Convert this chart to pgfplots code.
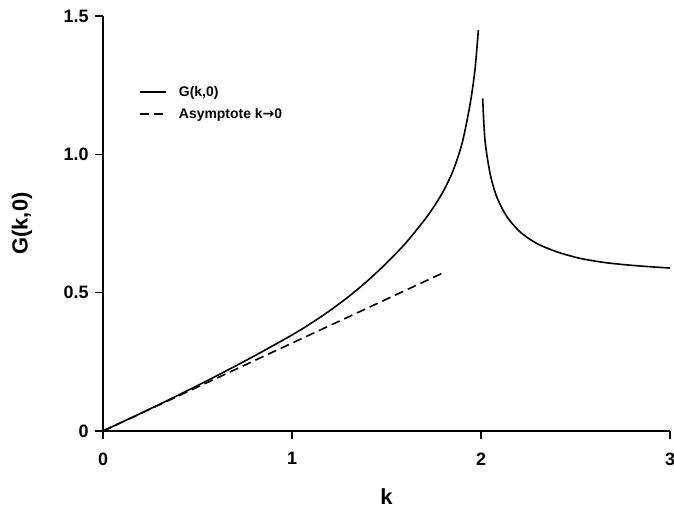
\documentclass[border=0pt]{standalone}
\usepackage{fontspec}
\setmainfont{Liberation Sans}
\newfontfamily\dejavu{DejaVu Sans}
\usepackage{pgfplots}
\pgfplotsset{compat=1.18}
\begin{document}
\begin{tikzpicture}
\begin{axis}[
  name=ax,
  scale only axis,
  width=567bp, height=415bp,
  xmin=0, xmax=3, ymin=0, ymax=1.5,
  axis lines=left,
  axis line style={line width=1.6bp, -},
  xtick={0,1,2,3}, ytick={0,0.5,1.0,1.5},
  yticklabels={0,0.5,1.0,1.5},
  tick align=outside,
  major tick length=8bp,
  tick style={line width=1.4bp, black},
  /pgf/number format/assume math mode=true,
  ticklabel style={font=\bfseries\fontsize{18}{20}\selectfont},
  yticklabel style={xshift=-3bp},
  xticklabel style={yshift=-10bp},
  xlabel={k}, ylabel={G(k,0)},
  every axis x label/.style={at={(axis description cs:0.5,-0.159)}, anchor=center,
    font=\bfseries\fontsize{22}{24}\selectfont},
  every axis y label/.style={at={(axis description cs:-0.143,0.5)}, anchor=center, rotate=90,
    font=\bfseries\fontsize{22}{24}\selectfont},
  legend style={draw=none, fill=none, at={(rel axis cs:0.058,0.84)}, anchor=north west,
    font=\bfseries\fontsize{14}{16}\selectfont, row sep=6bp},
  legend cell align=left,
  legend image code/.code={\draw[#1, line width=2.2bp] (0bp,0bp) -- (26bp,0bp); \path (36bp,0bp);},
]
\addplot[black, line width=1.6bp, smooth] coordinates {
(0,0) (0.2,0.064) (0.4,0.130) (0.6,0.199) (0.8,0.271) (1.0,0.347) (1.1,0.389)
(1.2,0.435) (1.3,0.486) (1.4,0.543) (1.5,0.607) (1.6,0.678) (1.7,0.762)
(1.75,0.810) (1.8,0.866) (1.85,0.937) (1.9,1.040) (1.942,1.180) (1.968,1.305) (1.986,1.449)
};
\addlegendentry{G(k,0)}
\addplot[black, line width=1.6bp, dash pattern=on 9bp off 5bp] coordinates {
(0,0) (1.801,0.572)
};
\addlegendentry{Asymptote k{\dejavu\bfseries →}0}
\addplot[black, line width=1.6bp, smooth, forget plot] coordinates {
(2.009,1.202) (2.021,1.052) (2.048,0.931) (2.083,0.847) (2.136,0.776)
(2.206,0.720) (2.295,0.678) (2.4,0.648) (2.524,0.624) (2.665,0.608)
(2.83,0.597) (3.0,0.589)
};
\end{axis}
\pgfresetboundingbox
\path ([xshift=-103bp,yshift=-83bp]ax.south west) rectangle ([xshift=4bp,yshift=16bp]ax.north east);
\end{tikzpicture}
\end{document}
